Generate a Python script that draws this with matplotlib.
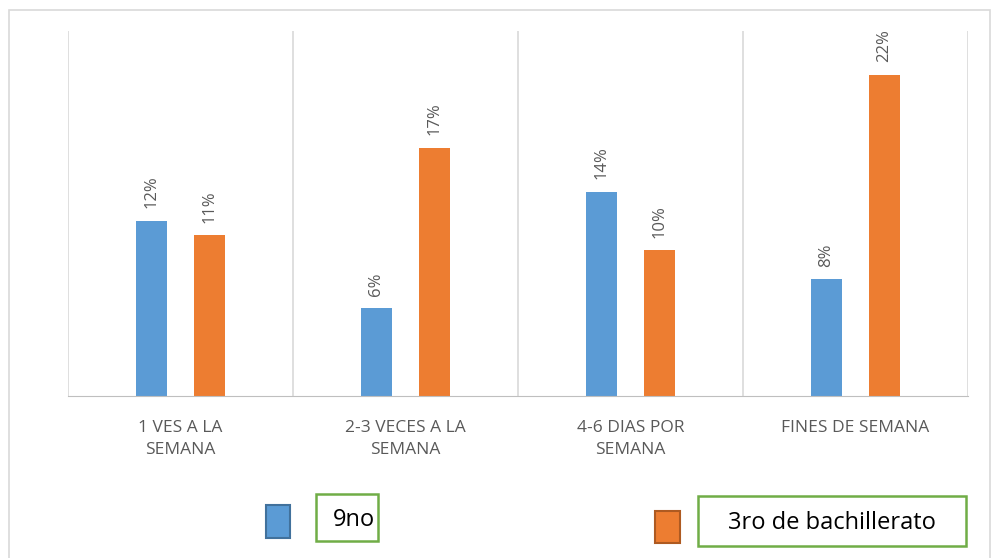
import matplotlib
matplotlib.use("Agg")
import matplotlib.pyplot as plt
from matplotlib.patches import Rectangle
import numpy as np

categories = ["1 VES A LA\nSEMANA", "2-3 VECES A LA\nSEMANA", "4-6 DIAS POR\nSEMANA", "FINES DE SEMANA"]
series_names = ["9no", "3ro de bachillerato"]
vals_9no = [12, 6, 14, 8]
vals_3ro = [11, 17, 10, 22]

plt.rcParams['font.family'] = ['Open Sans', 'DejaVu Sans']

W, H = 997, 558
fig = plt.figure(figsize=(W / 100, H / 100), dpi=100)

# outer chart border
fig.patches.append(Rectangle((9 / W, -0.05), (990 - 9) / W, (H - 10) / H + 0.05,
                             transform=fig.transFigure, fill=False,
                             edgecolor='#d9d9d9', linewidth=1.2))

ax = fig.add_axes([68 / W, (H - 396) / H, 900 / W, (396 - 31) / H])
x = np.arange(len(categories))
off = 0.129
wd = 0.134
b1 = ax.bar(x - off, vals_9no, wd, color='#5B9BD5')
b2 = ax.bar(x + off, vals_3ro, wd, color='#ED7D31')

ax.set_xlim(-0.5, len(categories) - 0.5)
ax.set_ylim(0, 25)
ax.set_yticks([])
ax.set_xticks(x)
ax.set_xticklabels(categories, color='#595959', fontsize=12.5, linespacing=1.5)
ax.tick_params(axis='x', length=0, pad=17)
for s in ['top', 'left', 'right']:
    ax.spines[s].set_visible(False)
ax.spines['bottom'].set_color('#bfbfbf')
for b in np.arange(-0.5, len(categories), 1.0):
    ax.axvline(b, color='#d9d9d9', linewidth=1.2, zorder=0)

for bars, vals in ((b1, vals_9no), (b2, vals_3ro)):
    for r, v in zip(bars, vals):
        ax.annotate(f"{v}%", (r.get_x() + r.get_width() / 2, r.get_height()),
                    xytext=(0, 9), textcoords='offset points', rotation=90,
                    ha='center', va='bottom', color='#595959', fontsize=12)

# legend (manual, as in reference)
def fig_rect(x0, y0, x1, y1, **kw):
    fig.patches.append(Rectangle((x0 / W, (H - y1) / H), (x1 - x0) / W, (y1 - y0) / H,
                                 transform=fig.transFigure, **kw))

fig_rect(266, 505, 290, 538, facecolor='#5B9BD5', edgecolor='#41719C', linewidth=1.5)
fig_rect(316, 494, 378, 541, facecolor='white', edgecolor='#70AD47', linewidth=1.8)
fig.text(354 / W, 1 - 520 / H, series_names[0], ha='center', va='center', fontsize=17, color='black')

fig_rect(655, 511, 680, 543, facecolor='#ED7D31', edgecolor='#AE5A21', linewidth=1.5)
fig_rect(698, 496, 966, 546, facecolor='white', edgecolor='#70AD47', linewidth=1.8)
fig.text(832 / W, 1 - 523 / H, series_names[1], ha='center', va='center', fontsize=17, color='black')

fig.savefig("out.png", dpi=100, facecolor='white')
